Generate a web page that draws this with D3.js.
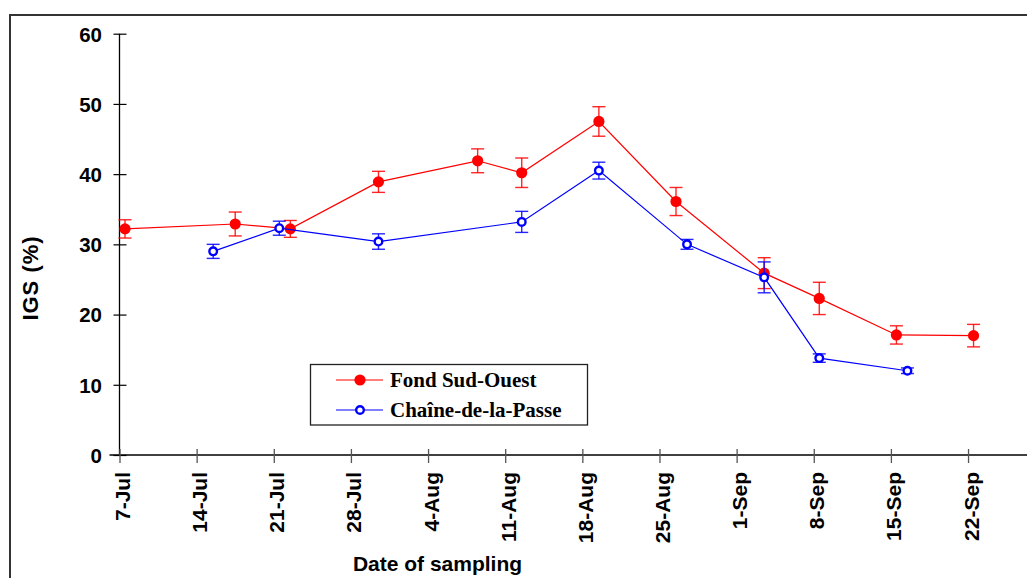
<!DOCTYPE html>
<html>
<head>
<meta charset="utf-8">
<script src="https://cdn.jsdelivr.net/npm/d3@7"></script>
<style>
  html, body { margin: 0; padding: 0; background: #fff; }
  svg { display: block; }
</style>
</head>
<body>
<svg id="chart" width="1027" height="578"></svg>
<script>
// Gonado-somatic index (IGS) at two sampling sites
const fsoDates  = ["2008-07-07", "2008-07-17", "2008-07-22", "2008-07-30", "2008-08-08", "2008-08-12",
                   "2008-08-19", "2008-08-26", "2008-09-03", "2008-09-08", "2008-09-15", "2008-09-22"];
const fsoValues = [32.2, 32.9, 32.2, 38.9, 41.9, 40.2, 47.5, 36.1, 25.9, 22.3, 17.1, 17.0];
const fsoErrors = [1.3, 1.7, 1.2, 1.5, 1.7, 2.1, 2.1, 2.0, 2.2, 2.3, 1.3, 1.6];

const cdpDates  = ["2008-07-15", "2008-07-21", "2008-07-30", "2008-08-12", "2008-08-19",
                   "2008-08-27", "2008-09-03", "2008-09-08", "2008-09-16"];
const cdpValues = [29.0, 32.3, 30.4, 33.2, 40.5, 30.0, 25.3, 13.8, 12.0];
const cdpErrors = [1.0, 1.0, 1.1, 1.5, 1.2, 0.7, 2.2, 0.6, 0.4];

const xTickDates = ["2008-07-07", "2008-07-14", "2008-07-21", "2008-07-28", "2008-08-04", "2008-08-11",
                    "2008-08-18", "2008-08-25", "2008-09-01", "2008-09-08", "2008-09-15", "2008-09-22"];
const yTickValues = [0, 10, 20, 30, 40, 50, 60];

const seriesNames = ["Fond Sud-Ouest", "Chaîne-de-la-Passe"];

const parse = d3.utcParse("%Y-%m-%d");
const svg = d3.select("#chart");

// Date axis: one pixel scale per day, running past the last labelled week
const x = d3.scaleUtc()
  .domain([parse("2008-07-07"), parse("2008-09-29")])
  .range([119.5, 119.5 + 84 * 11.02]);
const y = d3.scaleLinear().domain([0, 60]).range([455, 33.7]);

// each sample sits at the middle of its day
const xPos = d => x(d3.utcHour.offset(d, 12));

const fso = fsoDates.map((d, i) => ({ date: parse(d), v: fsoValues[i], e: fsoErrors[i] }));
const cdp = cdpDates.map((d, i) => ({ date: parse(d), v: cdpValues[i], e: cdpErrors[i] }));

// outer frame
svg.append("path")
  .attr("d", "M10,578 V15 H1027")
  .attr("fill", "none").attr("stroke", "#333").attr("stroke-width", 2);

const tickFont = "'Liberation Sans', Arial, sans-serif";

// Y axis
const yAxis = svg.append("g")
  .attr("transform", "translate(119.5,0)")
  .call(d3.axisLeft(y).tickValues(yTickValues).tickSize(6).tickPadding(0));
yAxis.select(".domain").attr("stroke", "#000").attr("stroke-width", 1.3).attr("d", `M0,${y(0)}V${y(60)}`);
yAxis.selectAll(".tick line").attr("x1", -6).attr("x2", 7).attr("stroke", "#000").attr("stroke-width", 1.2);
yAxis.selectAll(".tick text")
  .attr("x", -17.5).attr("dy", "0.36em")
  .attr("font-family", tickFont).attr("font-weight", "bold").attr("font-size", 20.5)
  .attr("fill", "#000");

// X axis
const xAxis = svg.append("g")
  .attr("transform", `translate(0,${y(0)})`)
  .call(d3.axisBottom(x).tickValues(xTickDates.map(parse)).tickFormat(d3.utcFormat("%-d-%b")).tickSize(8));
xAxis.select(".domain").attr("stroke", "#000").attr("stroke-width", 1.3).attr("d", `M${x.range()[0] - 10},0H1027`);
xAxis.selectAll(".tick line").attr("y1", -6).attr("y2", 8).attr("stroke", "#555").attr("stroke-width", 1.3);
xAxis.selectAll(".tick text")
  .attr("transform", "translate(10,17) rotate(-90)")
  .attr("x", 0).attr("y", 0).attr("dy", 0)
  .attr("text-anchor", "end")
  .attr("font-family", tickFont).attr("font-weight", "bold").attr("font-size", 21)
  .attr("fill", "#000");

// axis titles
svg.append("text")
  .attr("transform", "translate(38,278) rotate(-90)")
  .attr("text-anchor", "middle")
  .attr("font-family", tickFont).attr("font-weight", "bold").attr("font-size", 22)
  .attr("letter-spacing", 1)
  .text("IGS (%)");
svg.append("text")
  .attr("x", 437.5).attr("y", 570.5)
  .attr("text-anchor", "middle")
  .attr("font-family", tickFont).attr("font-weight", "bold").attr("font-size", 21)
  .text("Date of sampling");

const line = d3.line().x(d => xPos(d.date)).y(d => y(d.v));

function drawSeries(data, color, filled) {
  const g = svg.append("g");
  g.append("path").datum(data)
    .attr("d", line).attr("fill", "none").attr("stroke", color).attr("stroke-width", 1.2);
  const eb = g.selectAll(".eb").data(data).join("g").attr("class", "eb")
    .attr("stroke", color).attr("stroke-width", 1.4).attr("stroke-opacity", 0.85);
  eb.append("line")
    .attr("x1", d => xPos(d.date)).attr("x2", d => xPos(d.date))
    .attr("y1", d => y(d.v - d.e)).attr("y2", d => y(d.v + d.e));
  eb.append("line")
    .attr("x1", d => xPos(d.date) - 6.5).attr("x2", d => xPos(d.date) + 6.5)
    .attr("y1", d => y(d.v + d.e)).attr("y2", d => y(d.v + d.e));
  eb.append("line")
    .attr("x1", d => xPos(d.date) - 6.5).attr("x2", d => xPos(d.date) + 6.5)
    .attr("y1", d => y(d.v - d.e)).attr("y2", d => y(d.v - d.e));
  g.selectAll("circle").data(data).join("circle")
    .attr("cx", d => xPos(d.date)).attr("cy", d => y(d.v))
    .attr("r", filled ? 5.6 : 3.8)
    .attr("fill", filled ? color : "#fff")
    .attr("stroke", color).attr("stroke-width", filled ? 0 : 2.4);
}

drawSeries(fso, "#ff0000", true);
drawSeries(cdp, "#0000ff", false);

// legend
const legend = svg.append("g");
legend.append("rect")
  .attr("x", 310.5).attr("y", 364.5).attr("width", 277).attr("height", 60.5)
  .attr("fill", "#fff").attr("stroke", "#222").attr("stroke-width", 1.3);
const legendItems = [
  { name: seriesNames[0], color: "#ff0000", filled: true },
  { name: seriesNames[1], color: "#0000ff", filled: false }
];
legendItems.forEach((it, i) => {
  const cy = 380 + i * 30;
  legend.append("line").attr("x1", 336).attr("x2", 383).attr("y1", cy).attr("y2", cy)
    .attr("stroke", it.color).attr("stroke-width", 1.2);
  legend.append("circle").attr("cx", 360).attr("cy", cy)
    .attr("r", it.filled ? 5.6 : 3.8)
    .attr("fill", it.filled ? it.color : "#fff")
    .attr("stroke", it.color).attr("stroke-width", it.filled ? 0 : 2.4);
  legend.append("text").attr("x", 390).attr("y", cy + 7)
    .attr("font-family", "'Liberation Serif', 'Times New Roman', serif")
    .attr("font-weight", "bold").attr("font-size", 21)
    .text(it.name);
});
</script>
</body>
</html>
